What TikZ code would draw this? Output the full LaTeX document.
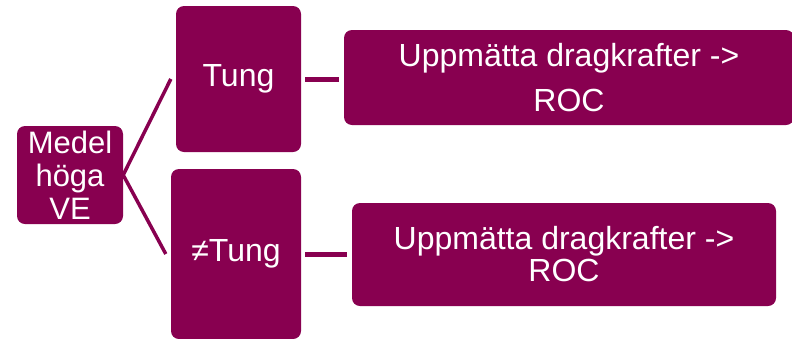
\documentclass[tikz,border=0pt]{standalone}
\usepackage{fontspec}
\setmainfont{Liberation Sans}
\definecolor{plum}{HTML}{880050}

\begin{document}
\begin{tikzpicture}[x=1pt, y=-1pt,
	box/.style={fill=plum, rounded corners=8pt, text=white, align=center, inner sep=0pt},
	link/.style={draw=plum, line width=3.5pt}]
	\useasboundingbox (0,0) rectangle (792,338);
	\node[box, minimum width=106pt, minimum height=98pt, font=\fontsize{31}{33}\selectfont] (medel) at (70,175) {Medel\\höga\\VE};
	\node[box, minimum width=125pt, minimum height=146pt, font=\fontsize{32}{36}\selectfont] (tung) at (238.5,79) {Tung};
	\node[box, minimum width=130pt, minimum height=170pt, font=\fontsize{32}{36}\selectfont] (ntung) at (236,254) {≠Tung};
	\node[box, minimum width=450pt, minimum height=95pt, font=\fontsize{32}{45}\selectfont] (roca) at (569,77.5) {Uppmätta dragkrafter ->\\ROC};
	\node[box, minimum width=424pt, minimum height=103pt, font=\fontsize{32}{32}\selectfont] (rocb) at (564,254.5) {Uppmätta dragkrafter ->\\ROC};
	\draw[link] ([xshift=-5pt]tung.west) -- (medel.east) -- ([xshift=-5pt]ntung.west);
	\draw[link, line width=5pt]
		([xshift=4pt]tung.east) -- ([xshift=-5pt]tung.east -| roca.west)
		([xshift=4pt]ntung.east) -- ([xshift=-5pt]ntung.east -| rocb.west);
\end{tikzpicture}
\end{document}
